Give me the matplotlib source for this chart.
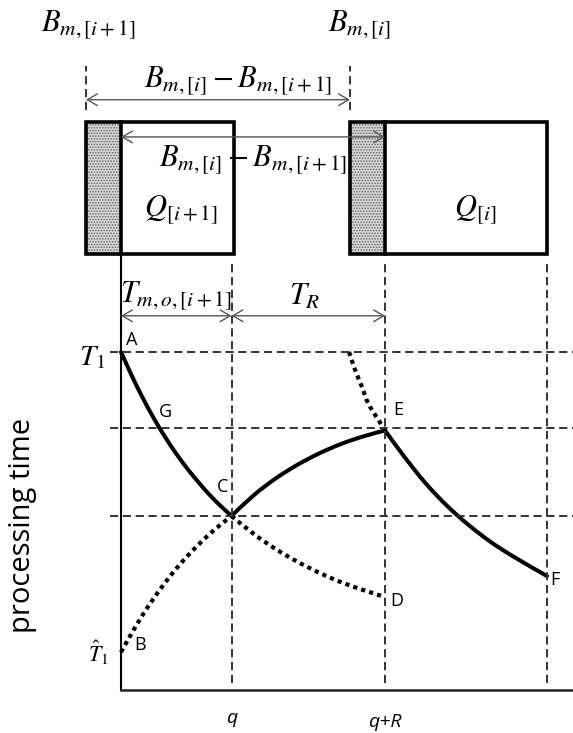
import matplotlib
matplotlib.use('Agg')
import matplotlib.pyplot as plt
from matplotlib.patches import Rectangle, PathPatch
from matplotlib.path import Path
import numpy as np

# time axis in units of q, processing time in units of T1
q = 1.0
R = 1.389
t_end = 3.855
shift = 0.317          # width of the shaded part of Q[i+1]
T1 = 1.0
T1_hat = 0.112
level_E = 0.775
level_C = 0.515

# curves
t_AC = [0.0, 0.1, 0.2, 0.3, 0.4, 0.5, 0.6, 0.7, 0.8, 0.9, 1.0]
p_AC = [1.0, 0.928, 0.862, 0.802, 0.748, 0.699, 0.655, 0.615, 0.578, 0.545, 0.515]
t_CE = [1.0, 1.2, 1.4, 1.6, 1.8, 2.0, 2.2, 2.389]
p_CE = [0.515, 0.576, 0.626, 0.667, 0.701, 0.729, 0.751, 0.768]
t_EF = [2.389, 2.55, 2.75, 2.95, 3.15, 3.35, 3.55, 3.855]
p_EF = [0.768, 0.696, 0.614, 0.545, 0.487, 0.437, 0.395, 0.337]
t_BC = [0.0, 0.1, 0.2, 0.3, 0.4, 0.5, 0.6, 0.7, 0.8, 0.9, 1.0]
p_BC = [0.112, 0.170, 0.224, 0.273, 0.318, 0.359, 0.396, 0.430, 0.461, 0.489, 0.515]
t_CD = [1.0, 1.2, 1.4, 1.6, 1.8, 2.0, 2.2, 2.389]
p_CD = [0.515, 0.462, 0.417, 0.379, 0.346, 0.318, 0.295, 0.275]
t_uE = [2.063, 2.118, 2.181, 2.235, 2.317, 2.389]
p_uE = [1.0, 0.947, 0.896, 0.849, 0.805, 0.769]

plt.rcParams['mathtext.fontset'] = 'stix'
plt.rcParams['hatch.linewidth'] = 0.7


def smooth(ax, xs, ys, **kw):
    # catmull-rom through the read points, drawn as cubic bezier segments
    p = np.column_stack([xs, ys])
    p = np.vstack([p[0], p, p[-1]])
    verts = [p[1]]
    codes = [Path.MOVETO]
    for i in range(1, len(p) - 2):
        c1 = p[i] + (p[i + 1] - p[i - 1]) / 6
        c2 = p[i + 1] - (p[i + 2] - p[i]) / 6
        verts += [c1, c2, p[i + 1]]
        codes += [Path.CURVE4] * 3
    ax.add_patch(PathPatch(Path(verts, codes), facecolor='none', **kw))


fig = plt.figure(figsize=(5.73, 7.33), dpi=100)
ax = fig.add_axes([0, 0, 1, 1])
ax.set_xlim(-1.095, 4.090)
ax.set_ylim(-0.127, 2.041)
ax.axis('off')

dash = dict(color='#333333', lw=1.4, dashes=(4.2, 2.4))
dots = dict(edgecolor='black', lw=3.0, linestyle=(0, (1, 1)), capstyle='butt')
solid = dict(edgecolor='black', lw=2.9, capstyle='round', joinstyle='round')

# grid of dashed guides
for lev in [T1, level_E, level_C]:
    ax.plot([-0.1, 4.09], [lev, lev], **dash)
for x in [q, q + R, t_end]:
    ax.plot([x, x], [0.021, 1.266], **dash)
for x in [-shift, q + R - shift]:
    ax.plot([x, x], [1.716, 1.846], **dash)

# axes
ax.plot([0, 0], [0, 1.29], color='black', lw=1.5)
ax.plot([0, 4.09], [0, 0], color='#222222', lw=1.8)

# boxes
boxes = [(-shift, q + 0.023 + shift), (q + R - shift, t_end - (q + R - shift))]
for x0, w in boxes:
    ax.add_patch(Rectangle((x0, 1.29), shift, 0.39, facecolor='#d6d6d6',
                           edgecolor='#606060', lw=0, hatch='......', zorder=3))
    ax.add_patch(Rectangle((x0, 1.29), w, 0.39, facecolor='none',
                           edgecolor='black', lw=2.6, zorder=4))
    ax.plot([x0 + shift, x0 + shift], [1.29, 1.68], color='black', lw=2.6, zorder=4)

# curves
smooth(ax, t_BC, p_BC, **dots)
smooth(ax, t_CD, p_CD, **dots)
smooth(ax, t_uE, p_uE, **dots)
smooth(ax, t_AC, p_AC, **solid)
smooth(ax, t_CE, p_CE, **solid)
smooth(ax, t_EF, p_EF, **solid)

# arrows
arr = dict(arrowstyle='<->,head_length=0.6,head_width=0.35', color='#555555',
           lw=1.0, mutation_scale=12, shrinkA=0, shrinkB=0)
ax.annotate('', xy=(q + R - shift, 1.746), xytext=(-shift, 1.746), arrowprops=arr)
ax.annotate('', xy=(q + R, 1.636), xytext=(0, 1.636), arrowprops=dict(arr, zorder=5), zorder=5)
ax.annotate('', xy=(q, 1.107), xytext=(0, 1.107), arrowprops=arr)
ax.annotate('', xy=(q + R, 1.107), xytext=(q, 1.107), arrowprops=arr)

# math labels
mfs = 22
ax.text(-0.3, 1.965, r'$B_{m,[i+1]}$', fontsize=mfs, ha='center', va='center')
ax.text(2.155, 1.965, r'$B_{m,[i]}$', fontsize=mfs, ha='center', va='center')
ax.text(1.06, 1.80, r'$B_{m,[i]}-B_{m,[i+1]}$', fontsize=mfs, ha='center', va='center')
ax.text(1.195, 1.568, r'$B_{m,[i]}-B_{m,[i+1]}$', fontsize=mfs, ha='center', va='center', zorder=6)
ax.text(0.543, 1.42, r'$Q_{[i+1]}$', fontsize=mfs, ha='center', va='center', zorder=6)
ax.text(3.204, 1.42, r'$Q_{[i]}$', fontsize=mfs, ha='center', va='center', zorder=6)
ax.text(0.498, 1.165, r'$T_{m,o,[i+1]}$', fontsize=mfs, ha='center', va='center')
ax.text(1.665, 1.165, r'$T_R$', fontsize=mfs, ha='center', va='center')
ax.text(-0.262, 0.985, r'$T_1$', fontsize=21, ha='center', va='center')
ax.text(-0.208, 0.109, r'$\hat{T}_1$', fontsize=16, ha='center', va='center')

# point labels
sans = 'Open Sans'
pts = {'A': (0.1, 1.036), 'G': (0.398, 0.822), 'C': (0.923, 0.601), 'E': (2.507, 0.828),
       'D': (2.498, 0.263), 'F': (3.928, 0.325), 'B': (0.172, 0.133)}
for name, (x, y) in pts.items():
    ax.text(x, y, name, fontsize=13, family=sans, ha='center', va='center')

ax.text(q, -0.083, 'q', fontsize=14, family=sans, style='italic', ha='center', va='center')
ax.text(q + R, -0.095, 'q+R', fontsize=14, family=sans, style='italic', ha='center', va='center')
ax.text(-0.887, 0.488, 'processing time', fontsize=21, family=sans, rotation=90,
        ha='center', va='center')

fig.savefig('out.png', dpi=100)
